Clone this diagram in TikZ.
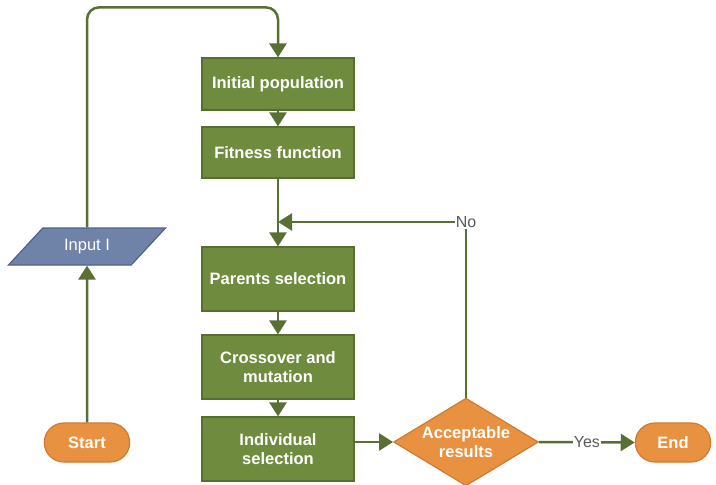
\documentclass[tikz,border=0pt]{standalone}
\usepackage{fontspec}
\setmainfont{Liberation Sans}
\usetikzlibrary{shapes.geometric,shapes.misc,arrows.meta}

\definecolor{boxgreen}{RGB}{111,140,62}
\definecolor{boxgreenline}{RGB}{86,110,47}
\definecolor{termorange}{RGB}{232,145,64}
\definecolor{termorangeline}{RGB}{208,122,46}
\definecolor{inputblue}{RGB}{111,131,168}
\definecolor{inputblueline}{RGB}{78,98,140}
\definecolor{flowgreen}{RGB}{88,112,52}
\definecolor{labelgray}{RGB}{90,90,90}

\begin{document}
\begin{tikzpicture}[x=1pt,y=1pt,
		procbox/.style={rectangle, draw=boxgreenline, line width=1.2pt, fill=boxgreen,
			text=white, font=\fontsize{16.5}{19}\selectfont\bfseries, align=center,
			minimum width=152pt, minimum height=64pt},
		termbox/.style={rounded rectangle, draw=termorangeline, line width=1.2pt, fill=termorange,
			text=white, font=\fontsize{16.5}{19}\selectfont\bfseries, minimum height=39pt},
		decbox/.style={diamond, draw=termorangeline, line width=1.2pt, fill=termorange,
			text=white, font=\fontsize{16.5}{19}\selectfont\bfseries, align=center,
			aspect=1.65, inner sep=1pt},
		inputbox/.style={trapezium, trapezium left angle=32, trapezium right angle=148,
			draw=inputblueline, line width=1.2pt, fill=inputblue, text=white,
			font=\fontsize{16.5}{19}\selectfont, minimum width=157pt, minimum height=37pt,
			trapezium stretches body},
		flow/.style={draw=flowgreen, line width=2.5pt,
			-{Triangle[width=17pt,length=14pt]}},
		flowlabel/.style={fill=white, text=labelgray, inner sep=1pt,
			font=\fontsize{16}{19}\selectfont}
	]
		\useasboundingbox (0,0) rectangle (716,-485);
		% main column
		\node[procbox, minimum height=52pt] (init) at (278,-84) {Initial population};
		\node[procbox, minimum height=51pt] (fit) at (278,-152.5) {Fitness function};
		\node[procbox] (par) at (278,-279) {Parents selection};
		\node[procbox] (cross) at (278,-367) {Crossover and\\mutation};
		\node[procbox] (ind) at (278,-449) {Individual\\selection};
		% left side
		\node[inputbox] (inp) at (87,-246.5) {Input I};
		\node[termbox, minimum width=92pt] (start) at (87,-442.5) {Start};
		% decision and end
		\node[decbox] (acc) at (466,-442) {Acceptable\\results};
		\node[termbox, minimum width=82pt] (end) at (673,-442.5) {End};
		\coordinate (merge) at (278,-222);

		% arrows
		\draw[flow] (start) -- (inp);
		\draw[flow, rounded corners=12pt] (inp.north) |- ([yshift=50pt]init.north) -- (init.north);
		\draw[flow] (init) -- (fit);
		\draw[flow] (fit) -- (par);
		\draw[flow] (par) -- (cross);
		\draw[flow] (cross) -- (ind);
		\draw[flow] (ind.east |- acc.west) -- (acc.west);
		\draw[flow] (acc.north) |- node[flowlabel, pos=0.5] {No} (merge);
		\draw[flow] (acc.east) -- node[flowlabel] {Yes} (end.west);
	\end{tikzpicture}
\end{document}
